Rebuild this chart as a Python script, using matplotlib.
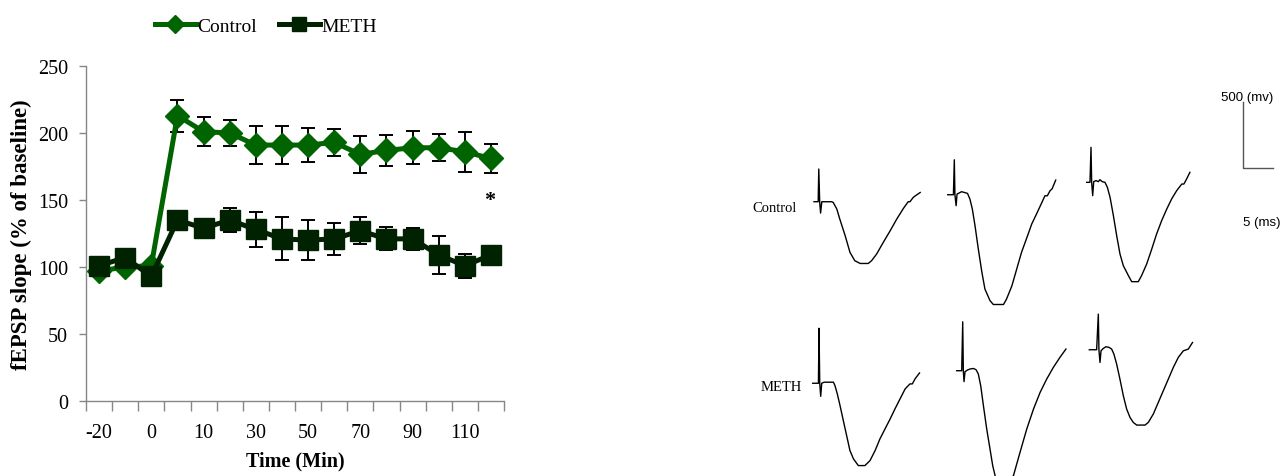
import matplotlib
matplotlib.use('Agg')
import matplotlib.pyplot as plt
import numpy as np

plt.rcParams['font.family'] = ['Liberation Serif', 'DejaVu Serif']

# time points (minutes), only every other one is labelled on the axis
TIMES = ['-20', '-10', '0', '5', '10', '20', '30', '40', '50', '60',
         '70', '80', '90', '100', '110', '120']

CONTROL = [97, 100, 101, 213, 201, 200, 191, 191, 191, 193,
           184, 187, 189, 189, 186, 181]
CONTROL_ERR = [2, 2, 2, 12, 11, 10, 14, 14, 13, 10,
               14, 11.5, 12.5, 10, 15, 11]
METH = [101, 107, 93, 135, 129, 135, 128, 121, 120, 121,
        127, 121, 121, 109, 101, 109]
METH_ERR = [3, 3, 3, 3, 3, 9, 13, 16, 15, 12,
            10, 8.5, 8, 14.5, 9, 3]

# sample fEPSP traces: time (ms) and voltage (mV) relative to trace start
C1_T = [0, 0.7, 0.8, 0.95, 1.1, 1.3, 2.95, 3.2, 3.8, 4.3, 5.2, 6.0, 6.8, 7.7,
        9.05, 9.6, 10.45, 11.55, 12.7, 13.8, 14.9, 15.7, 16.0, 16.55, 16.9, 17.7]
C1_V = [0, 0, 248, 0, -86, 0, 0, -5, -55, -131, -258, -384, -447, -468,
        -468, -447, -396, -308, -220, -131, -51, 0, 0, 33, 45, 70]
C2_T = [0, 0.95, 1.1, 1.2, 1.4, 1.55, 1.9, 2.3, 2.8, 3.3, 3.7, 4.1, 4.55, 5.1,
        5.7, 6.2, 7.05, 7.6, 9.3, 9.8, 10.7, 11.5, 12.3, 13.2, 14.0, 14.8,
        15.7, 16.2, 16.6, 17.05, 17.4, 18.0]
C2_V = [0, 0, 265, 0, -83, 5, 13, 23, 17, 10, -33, -108, -235, -412,
        -589, -715, -803, -832, -832, -791, -690, -563, -437, -324, -222, -146,
        -58, -8, -8, 30, 45, 111]
C3_T = [0, 0.55, 0.72, 0.83, 1.0, 1.17, 1.55, 1.95, 2.2, 2.6, 3.05, 3.45, 3.9,
        4.45, 5.0, 5.55, 6.1, 6.95, 7.5, 8.6, 9.15, 10.0, 10.85, 11.65, 12.5,
        13.35, 14.15, 15.0, 15.85, 16.2, 16.65, 17.2]
C3_V = [0, 0, 265, 0, -101, 5, 13, 5, 20, 5, 0, -38, -114,
        -252, -404, -543, -631, -707, -753, -753, -707, -619, -505, -392, -290,
        -202, -127, -63, -13, -13, 25, 76]
M1_T = [0, 0.95, 1.05, 1.17, 1.33, 1.5, 1.9, 3.45, 3.7, 4.1, 4.55, 5.1, 5.65,
        6.2, 6.8, 7.6, 8.7, 9.55, 10.4, 11.2, 12.05, 12.9, 13.7, 14.55, 15.4,
        16.2, 16.6, 17.05, 17.8]
M1_V = [0, 0, 417, 0, -99, 0, 8, 8, -17, -81, -169, -283, -396,
        -510, -574, -624, -624, -586, -510, -422, -346, -271, -195, -119, -43,
        -5, -5, 33, 78]
M2_T = [0, 0.83, 1.0, 1.1, 1.22, 1.38, 1.78, 2.22, 2.78, 3.22, 3.6, 4.0, 4.45,
        5.0, 5.55, 6.0, 6.4, 6.67, 7.33, 8.0, 9.45, 10.55, 11.67, 12.8, 13.9,
        15.0, 16.1, 17.2, 18.2]
M2_V = [0, 0, 371, 0, -83, -8, 5, 13, 17, 8, -25, -114, -265,
        -442, -594, -720, -796, -849, -872, -849, -796, -619, -442, -290, -164,
        -63, 25, 101, 164]
M3_T = [0, 1.22, 1.5, 1.6, 1.78, 1.95, 2.33, 2.78, 3.33, 3.72, 4.1, 4.55, 5.1,
        5.67, 6.22, 6.78, 7.33, 7.9, 9.28, 9.83, 10.67, 11.5, 12.33, 13.17,
        14.0, 14.83, 15.67, 16.5, 17.2]
M3_V = [0, 0, 270, 0, -96, -8, 10, 23, 17, 5, -33, -108, -222,
        -349, -449, -513, -551, -571, -571, -551, -487, -399, -311, -222,
        -134, -58, -8, 5, 55]

GREEN = '#006400'
DARK = '#012201'

fig = plt.figure(figsize=(12.82, 4.77), dpi=100)

# ---- left: LTP time course
ax = fig.add_axes([86 / 1282, 75 / 477, 418 / 1282, 335 / 477])
x = np.arange(len(TIMES))

ax.errorbar(x, CONTROL, yerr=CONTROL_ERR, fmt='none', ecolor='black',
            elinewidth=1.4, capsize=5, capthick=1.4, zorder=2)
ax.plot(x, CONTROL, '-D', color=GREEN, lw=3.6, markersize=12,
        label='Control', zorder=3)
ax.errorbar(x, METH, yerr=METH_ERR, fmt='none', ecolor='black',
            elinewidth=1.4, capsize=5, capthick=1.4, zorder=4)
ax.plot(x, METH, '-s', color=DARK, lw=3.6, markersize=14,
        label='METH', zorder=5)

ax.text(x[-1] - 0.05, 150, '*', ha='center', va='center', fontsize=16,
        fontweight='bold')

ax.set_xlim(-0.5, len(TIMES) - 0.5)
ax.set_ylim(0, 250)
ax.set_yticks(range(0, 251, 50))
ax.set_xticks(np.arange(-0.5, len(TIMES), 1.0))
ax.set_xticklabels([])
ax.set_xticks(x[::2], minor=True)
ax.set_xticklabels(TIMES[::2], minor=True)
ax.tick_params(axis='x', which='minor', length=0, pad=16, labelsize=14.5)
ax.tick_params(axis='x', which='major', length=7, width=1, color='#868686')
ax.tick_params(axis='y', length=5, width=1, color='#868686', labelsize=14.5,
               pad=8)
for side in ['top', 'right']:
    ax.spines[side].set_visible(False)
for side in ['left', 'bottom']:
    ax.spines[side].set_color('#868686')
    ax.spines[side].set_linewidth(1.0)

ax.set_ylabel('fEPSP slope (% of baseline)', fontsize=16.5,
              fontweight='bold', labelpad=4)
ax.set_xlabel('Time (Min)', fontsize=14.5, fontweight='bold', labelpad=6)

ax.legend(loc='center', bbox_to_anchor=(266 / 1282, 1 - 27 / 477),
          bbox_transform=fig.transFigure, ncol=2, frameon=False,
          fontsize=14, handlelength=2.1, handletextpad=0.1,
          columnspacing=1.1, markerscale=0.75)

# ---- right: representative traces, 6 px per ms and 7.58 mV per px
ax2 = fig.add_axes([740 / 1282, 0, 542 / 1282, 417 / 477])
ax2.set_xlim(0, 542 / 6)
ax2.set_ylim(0, 417 * 7.58)
ax2.axis('off')

traces = [(C1_T, C1_V, 12.33, 2079), (C2_T, C2_V, 34.62, 2132),
          (C3_T, C3_V, 57.78, 2226), (M1_T, M1_V, 12.12, 703),
          (M2_T, M2_V, 36.12, 798), (M3_T, M3_V, 58.22, 957)]
for t, v, t0, v0 in traces:
    ax2.plot(np.array(t) + t0, np.array(v) + v0, color='black', lw=1.0)

ax2.text(5.7, 2039, 'Control', ha='center', va='center', fontsize=10.5)
ax2.text(6.8, 675, 'METH', ha='center', va='center', fontsize=10.5)

# scale bar
ax2.plot([83.83, 83.83, 88.83], [2835, 2335, 2335], color='#555555', lw=1.0)
ax2.text(84.5, 2870, '500 (mv)', ha='center', va='center', fontsize=9.5,
         family='Liberation Sans')
ax2.text(87.0, 1925, '5 (ms)', ha='center', va='center', fontsize=9.5,
         family='Liberation Sans')

fig.savefig('out.png', dpi=100)
